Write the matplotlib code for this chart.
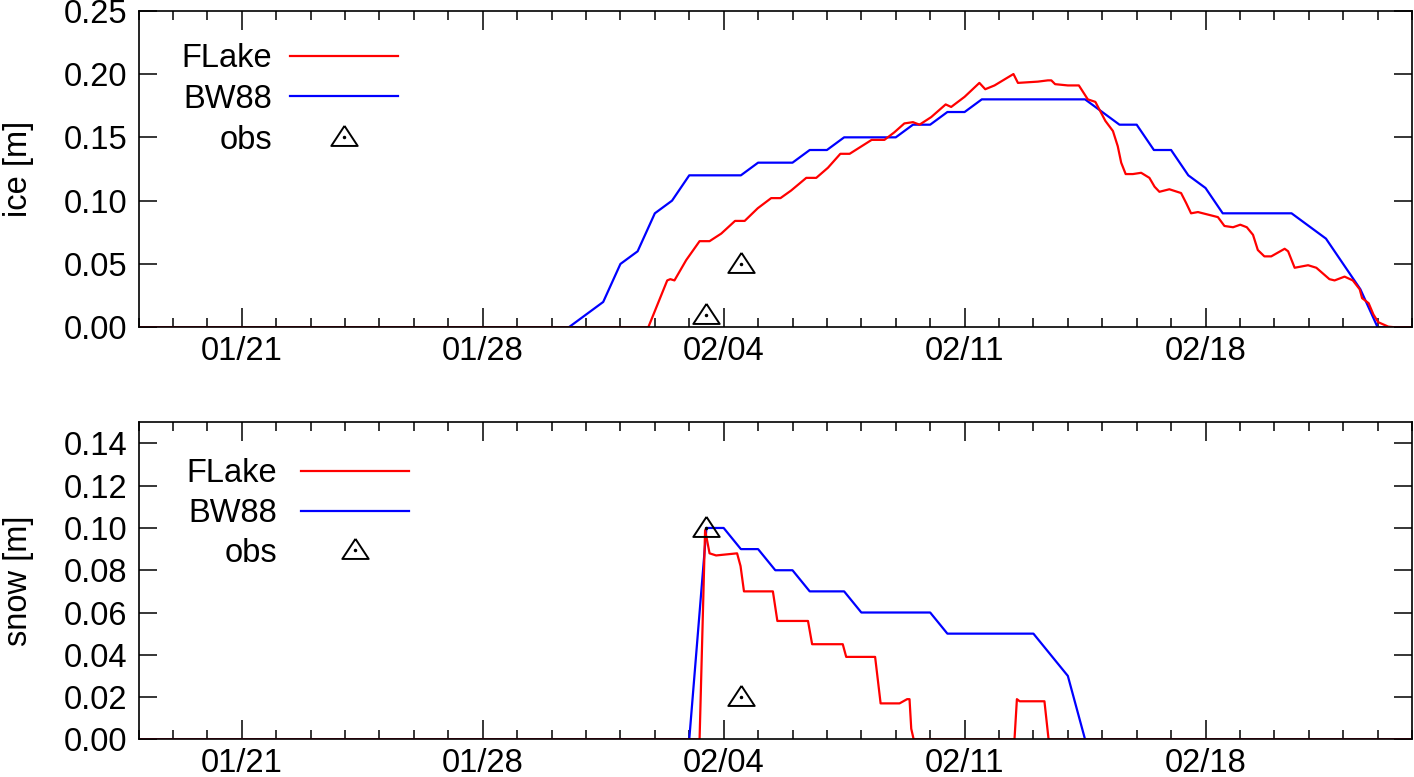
import matplotlib
matplotlib.use("Agg")
import matplotlib.pyplot as plt
import matplotlib.dates as mdates
from matplotlib.legend_handler import HandlerTuple
import pandas as pd

plt.rcParams['font.family'] = ['Liberation Sans', 'DejaVu Sans']

# ---------------- data (time = days since 2011-01-18 00:00) ----------------
base_date = "2011-01-18"
x_start_day = 0.0
x_end_day = 37.0
major_tick_dates = ["2011-01-21", "2011-01-28", "2011-02-04", "2011-02-11", "2011-02-18"]
major_tick_labels = ["01/21", "01/28", "02/04", "02/11", "02/18"]

ice_flake_t = [0, 14.81, 15.36, 15.45, 15.57, 15.91, 16.30, 16.59, 16.93, 17.33, 17.61,
               17.99, 18.38, 18.65, 18.96, 19.40, 19.69, 20.03, 20.39, 20.66, 21.30,
               21.67, 21.96, 22.25, 22.50, 22.69, 23.03, 23.45, 23.61, 24.00, 24.43,
               24.60, 24.87, 25.42, 25.55, 26.13, 26.42, 26.52, 26.63, 27.00, 27.32,
               27.58, 27.80, 28.09, 28.31, 28.45, 28.55, 28.68, 28.89, 29.13, 29.37,
               29.52, 29.66, 29.95, 30.29, 30.44, 30.58, 30.78, 31.36, 31.55, 31.80,
               32.01, 32.20, 32.38, 32.52, 32.71, 32.91, 33.30, 33.40, 33.59, 33.98,
               34.22, 34.60, 34.75, 35.04, 35.28, 35.48, 35.55, 35.74, 35.88, 36.02,
               36.31, 36.50, 37.0]
ice_flake_v = [0, 0, 0.037, 0.038, 0.037, 0.053, 0.068, 0.068, 0.074, 0.084, 0.084,
               0.094, 0.102, 0.102, 0.108, 0.118, 0.118, 0.126, 0.137, 0.137, 0.148,
               0.148, 0.154, 0.161, 0.162, 0.160, 0.166, 0.176, 0.174, 0.182, 0.193,
               0.188, 0.191, 0.200, 0.193, 0.194, 0.195, 0.195, 0.192, 0.191, 0.191,
               0.180, 0.178, 0.163, 0.155, 0.143, 0.130, 0.121, 0.121, 0.122, 0.118,
               0.111, 0.107, 0.109, 0.106, 0.098, 0.090, 0.091, 0.087, 0.080, 0.079,
               0.081, 0.079, 0.073, 0.061, 0.056, 0.056, 0.062, 0.060, 0.047, 0.049,
               0.047, 0.038, 0.037, 0.040, 0.037, 0.030, 0.023, 0.019, 0.010, 0.004,
               0.0005, 0, 0]

ice_bw88_t = [0, 12.5, 13.5, 14.0, 14.5, 15.0, 15.5, 16.0, 17.5, 18.0, 19.0, 19.5, 20.0,
              20.5, 22.0, 22.5, 23.0, 23.5, 24.0, 24.5, 27.5, 28.5, 29.0, 29.5, 30.0,
              30.5, 31.0, 31.5, 33.5, 34.5, 35.0, 35.5, 36.0, 37.0]
ice_bw88_v = [0, 0, 0.02, 0.05, 0.06, 0.09, 0.10, 0.12, 0.12, 0.13, 0.13, 0.14, 0.14,
              0.15, 0.15, 0.16, 0.16, 0.17, 0.17, 0.18, 0.18, 0.16, 0.16, 0.14, 0.14,
              0.12, 0.11, 0.09, 0.09, 0.07, 0.05, 0.03, 0, 0]

ice_obs_t = [16.5, 17.5]
ice_obs_v = [0.01, 0.05]

snow_flake_t = [0, 16.30, 16.46, 16.52, 16.59, 16.78, 17.39, 17.49, 17.59, 18.43, 18.56,
                19.45, 19.57, 20.46, 20.56, 21.40, 21.56, 22.11, 22.33, 22.40, 22.45,
                22.52, 25.45, 25.52, 25.60, 26.32, 26.44, 37.0]
snow_flake_v = [0, 0, 0.099, 0.094, 0.088, 0.087, 0.088, 0.082, 0.070, 0.070, 0.056,
                0.056, 0.045, 0.045, 0.039, 0.039, 0.017, 0.017, 0.019, 0.019, 0.005,
                0, 0, 0.019, 0.018, 0.018, 0, 0]

snow_bw88_t = [0, 16.0, 16.5, 17.0, 17.5, 18.0, 18.5, 19.0, 19.5, 20.5, 21.0, 23.0, 23.5,
               26.0, 27.0, 27.5, 37.0]
snow_bw88_v = [0, 0, 0.10, 0.10, 0.09, 0.09, 0.08, 0.08, 0.07, 0.07, 0.06, 0.06, 0.05,
               0.05, 0.03, 0, 0]

snow_obs_t = [16.5, 17.5]
snow_obs_v = [0.10, 0.02]

# ---------------- helpers ----------------
b0 = pd.Timestamp(base_date)


def to_dates(days):
    return [b0 + pd.Timedelta(days=float(d)) for d in days]


tri = [(0, 0.88), (-1, -0.64), (1, -0.64), (0, 0.88)]
FS = 23.5

fig = plt.figure(figsize=(14.14, 7.77), dpi=100)
ax1 = fig.add_axes([0.098, 0.5788, 0.9006, 0.4074])
ax2 = fig.add_axes([0.098, 0.0485, 0.9006, 0.408])


def style(ax, ylim, yticks, ylabel):
    ax.set_xlim(b0 + pd.Timedelta(days=x_start_day), b0 + pd.Timedelta(days=x_end_day))
    ax.set_ylim(*ylim)
    ax.set_yticks(yticks)
    ax.set_yticklabels([f"{t:.2f}" for t in yticks])
    ax.set_xticks(pd.to_datetime(major_tick_dates))
    ax.set_xticklabels(major_tick_labels)
    ax.xaxis.set_minor_locator(mdates.DayLocator())
    ax.tick_params(which='both', direction='in', top=True, right=True, width=1.1,
                   labelsize=FS, color='black')
    ax.tick_params(axis='x', which='major', length=13.5, pad=6)
    ax.tick_params(axis='x', which='minor', length=6.5)
    ax.tick_params(axis='y', which='major', length=13, pad=8)
    for s in ax.spines.values():
        s.set_linewidth(1.2)
    ax.set_ylabel(ylabel, fontsize=FS)
    ax.yaxis.set_label_coords(-0.082, 0.5)


def panel(ax, ft, fv, bt, bv, ot, ov, ylim, yticks, ylabel, anchor, tpad, lspace):
    lb, = ax.plot(to_dates(bt), bv, color='#0000ff', lw=1.6)
    lf, = ax.plot(to_dates(ft), fv, color='#ff0000', lw=1.6)
    lo, = ax.plot(to_dates(ot), ov, linestyle='none', marker=tri, markersize=19,
                  markerfacecolor='none', markeredgecolor='black', markeredgewidth=1.4,
                  clip_on=False)
    ld, = ax.plot(to_dates(ot), ov, linestyle='none', marker='o', markersize=1.5,
                  color='black')
    style(ax, ylim, yticks, ylabel)
    ax.legend([lf, lb, (lo, ld)], ['FLake', 'BW88', 'obs'], loc='upper right',
              bbox_to_anchor=anchor, frameon=False, markerfirst=False,
              fontsize=FS, handlelength=3.3, handletextpad=tpad, labelspacing=lspace,
              borderpad=0, borderaxespad=0,
              handler_map={tuple: HandlerTuple(ndivide=1)})


panel(ax1, ice_flake_t, ice_flake_v, ice_bw88_t, ice_bw88_v, ice_obs_t, ice_obs_v,
      (0, 0.25), [0.0, 0.05, 0.10, 0.15, 0.20, 0.25], 'ice [m]', (0.2038, 0.898), 0.55,
      0.3)
panel(ax2, snow_flake_t, snow_flake_v, snow_bw88_t, snow_bw88_v, snow_obs_t, snow_obs_v,
      (0, 0.15), [0.0, 0.02, 0.04, 0.06, 0.08, 0.10, 0.12, 0.14], 'snow [m]',
      (0.2124, 0.887), 0.75, 0.27)

fig.savefig('out.png', dpi=100)
